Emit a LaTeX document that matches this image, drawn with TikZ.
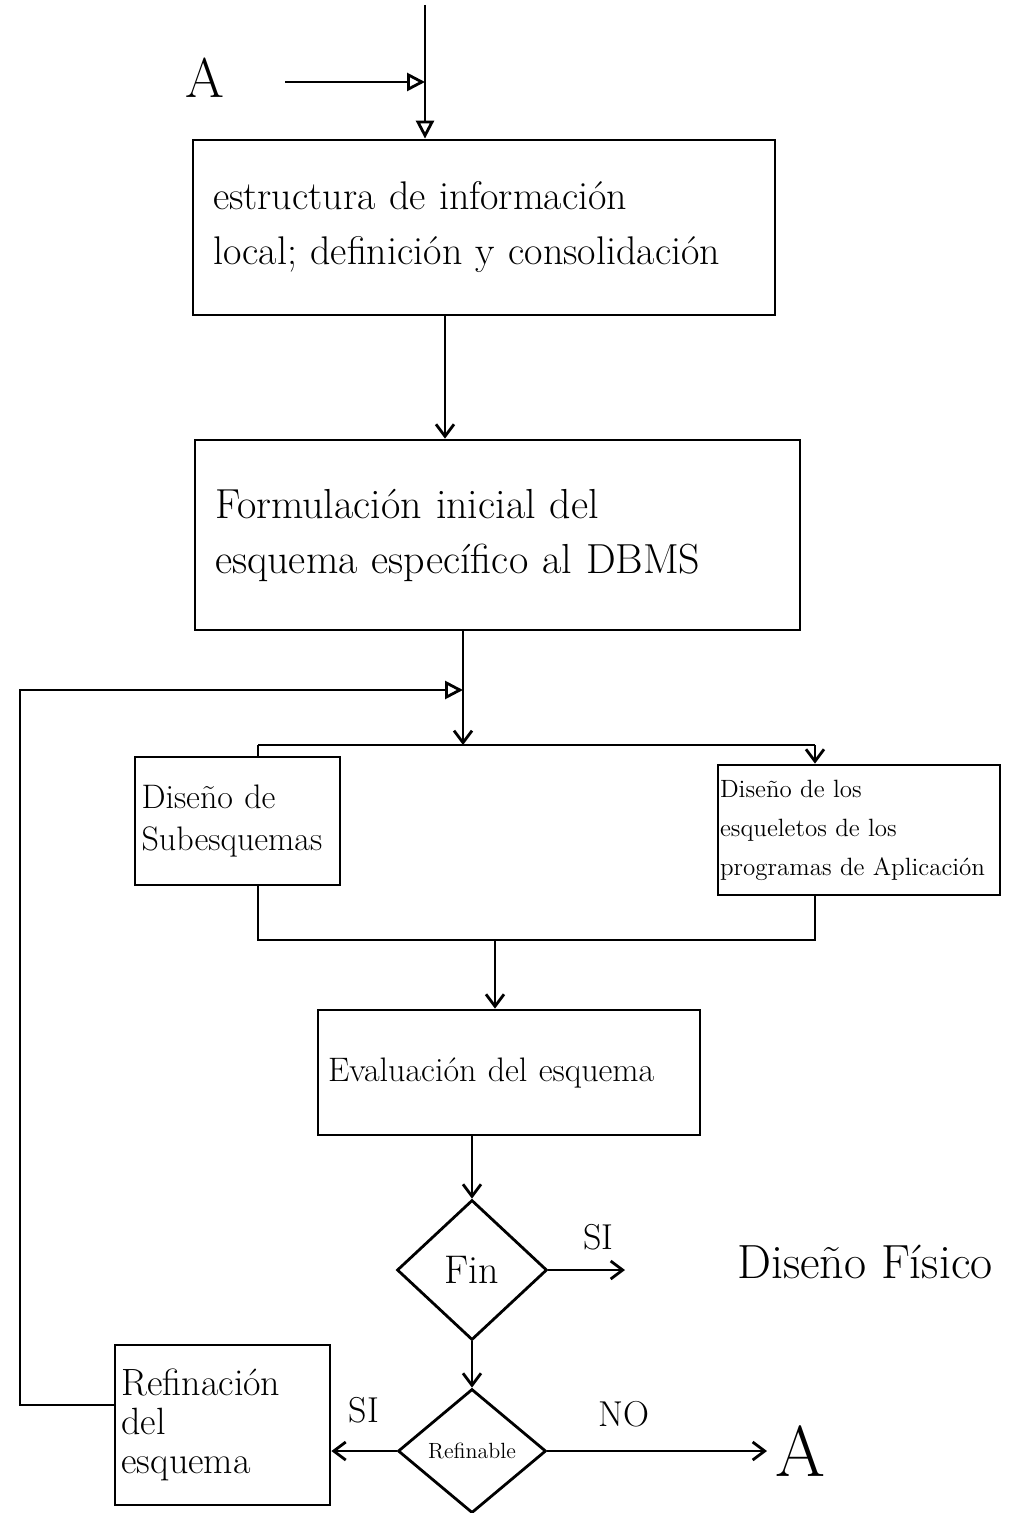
\documentclass[tikz,border=0pt]{standalone}
\usetikzlibrary{arrows.meta,shapes.geometric}
\begin{document}
\begin{tikzpicture}[x=0.5pt,y=-0.5pt,
  every path/.style={line width=1.4pt},
  box/.style={draw, rectangle, line width=1.4pt, inner xsep=10pt, align=left},
  dia/.style={draw, diamond, line width=1.4pt, inner sep=0pt},
  tri/.style={-{Triangle[open,length=9pt,width=9pt]}},
  arr/.style={-{Straight Barb[length=6pt,width=9pt]}},
  lbl/.style={font=\fontsize{18}{20}\selectfont}]
\useasboundingbox (0,0) rectangle (1015,1513);

% boxes
\node[box, minimum width=291pt, minimum height=87.5pt, text width=271pt,
  font=\fontsize{20}{27.5}\selectfont] (b1) at (484,227.5)
  {estructura de información\\local; definición y consolidación};
\node[box, minimum width=302.5pt, minimum height=95pt, text width=282.5pt,
  font=\fontsize{21}{27.5}\selectfont] (b2) at (497.5,535)
  {Formulación inicial del\\esquema específico al DBMS};
\node[box, minimum width=102.5pt, minimum height=64pt, text width=96pt, inner xsep=3pt,
  font=\fontsize{17}{21}\selectfont] (b3) at (237.5,821)
  {Diseño de\\Subesquemas};
\node[box, minimum width=141pt, minimum height=65pt, text width=139pt, inner xsep=1pt,
  font=\fontsize{12.5}{19.5}\selectfont] (b4) at (859,830)
  {Diseño de los\\esqueletos de los\\programas de Aplicación};
\node[box, minimum width=191pt, minimum height=62.5pt, text width=181pt, inner xsep=5pt,
  font=\fontsize{17}{21}\selectfont] (b5) at (509,1072.5)
  {Evaluación del esquema};
\node[box, minimum width=107.5pt, minimum height=80pt, text width=101pt, inner xsep=3pt,
  font=\fontsize{19}{19.5}\selectfont] (rb) at (222.5,1425)
  {Refinación\\del\\esquema};

% decisions
\node[dia, minimum width=75pt, minimum height=70pt, aspect=1.07,
  font=\fontsize{20}{22}\selectfont] (fin) at (472,1270) {Fin};
\node[dia, minimum width=74pt, minimum height=62pt, aspect=1.2,
  font=\fontsize{11}{12}\selectfont] (ref) at (472,1451) {Refinable};

% free texts
\node[font=\fontsize{28}{30}\selectfont] (A1) at (205,78) {A};
\node[font=\fontsize{36}{38}\selectfont] (A2) at (800,1451) {A};
\node[font=\fontsize{24}{26}\selectfont] (df) at (865,1262) {Diseño Físico};

% coordinates
\coordinate (top) at (425,5);
\coordinate (astart) at (285,82);
\coordinate (ajoin) at (425,82);
\coordinate (c12) at (445,0);
\coordinate (split) at (463,745);
\coordinate (loopjoin) at (463,690);
\coordinate (sl) at (258,745);
\coordinate (sr) at (815,745);
\coordinate (ml) at (258,940);
\coordinate (mr) at (815,940);
\coordinate (mc) at (495,940);
\coordinate (fs) at (625,1270);
\coordinate (lb) at (20,1405);
\coordinate (lt) at (20,690);

% connectors
\draw[tri] (top) -- (top |- b1.north);
\draw[tri] (astart) -- (ajoin);
\draw[arr] (b1.south -| c12) -- (c12 |- b2.north);
\draw[arr] (split |- b2.south) -- (split);
\draw (sl) -- (sr);
\draw (sl) -- (sl |- b3.north);
\draw[arr] (sr) -- (sr |- b4.north);
\draw (ml |- b3.south) -- (ml) -- (mr) -- (mr |- b4.south);
\draw[arr] (mc) -- (mc |- b5.north);
\draw[arr] (b5.south -| fin.north) -- (fin.north);
\draw[arr] (fin.east) -- (fs) node[lbl, pos=0.65, above=6pt] {SI};
\draw[arr] (fin.south) -- (ref.north);
\draw[arr] (ref.west) -- (ref.west -| rb.east) node[lbl, pos=0.5, above=10pt] {SI};
\draw[arr] (ref.east) -- (A2.west) node[lbl, pos=0.35, above=8pt] {NO};
\draw[tri] (rb.west |- lb) -- (lb) -- (lt) -- (loopjoin);
\end{tikzpicture}
\end{document}
